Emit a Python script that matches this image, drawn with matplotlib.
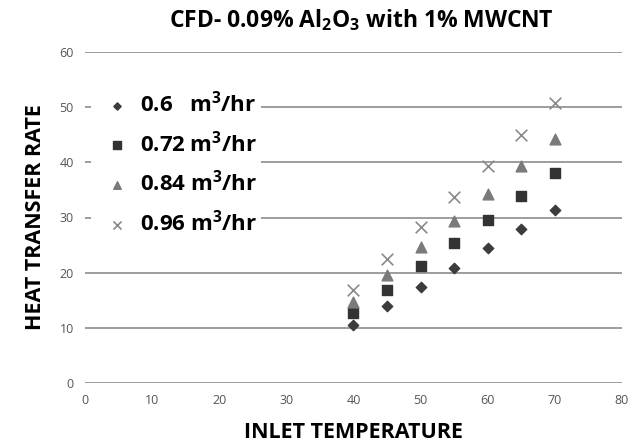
import matplotlib
matplotlib.use("Agg")
import matplotlib.pyplot as plt

# datos
temperatura = [40, 45, 50, 55, 60, 65, 70]
q_060 = [10.5, 13.9, 17.4, 20.9, 24.4, 27.9, 31.4]
q_072 = [12.7, 16.9, 21.2, 25.4, 29.6, 33.9, 38.0]
q_084 = [14.6, 19.6, 24.6, 29.3, 34.3, 39.3, 44.2]
q_096 = [16.8, 22.5, 28.2, 33.8, 39.3, 44.9, 50.8]
etiquetas = ["0.6   m$^3$/hr", "0.72 m$^3$/hr", "0.84 m$^3$/hr", "0.96 m$^3$/hr"]

plt.rcParams['font.family'] = ['Open Sans', 'DejaVu Sans']
plt.rcParams['mathtext.fontset'] = 'custom'
plt.rcParams['mathtext.rm'] = 'Open Sans:bold'
plt.rcParams['mathtext.default'] = 'rm'

fig = plt.figure(figsize=(6.34, 4.46), dpi=100)
ax = fig.add_axes([85/634, 1 - 383/446, (622-85)/634, (383-52)/446])

ax.scatter(temperatura, q_060, marker="D", s=28, color="#3c3c3c", label=etiquetas[0], zorder=3)
ax.scatter(temperatura, q_072, marker="s", s=55, color="#333333", label=etiquetas[1], zorder=3)
ax.scatter(temperatura, q_084, marker="^", s=60, color="#7a7a7a", label=etiquetas[2], zorder=3)
ax.scatter(temperatura, q_096, marker="x", s=70, color="#8a8a8a", linewidths=1.2, label=etiquetas[3], zorder=3)

ax.set_xlim(0, 80)
ax.set_ylim(0, 60)
ax.set_xticks(range(0, 81, 10))
ax.set_yticks(range(0, 61, 10))
ax.yaxis.grid(True, color="#8c8c8c", linewidth=1.2)
ax.set_axisbelow(True)
for s in ax.spines.values():
    s.set_visible(False)
ax.tick_params(length=0, labelsize=9, labelcolor="#555555", pad=8)

ax.set_xlabel("INLET TEMPERATURE", fontsize=15.5, fontweight="bold", labelpad=11)
ax.set_ylabel("HEAT TRANSFER RATE", fontsize=15.5, fontweight="bold", labelpad=10)
fig.text(0.57, 0.955, "CFD- 0.09% Al$_2$O$_3$ with 1% MWCNT", fontsize=16.5,
         fontweight="bold", ha="center", va="center")

leg = ax.legend(loc="upper left", bbox_to_anchor=(-0.01, 0.93), frameon=True,
                prop={"size": 16, "weight": "bold"}, handletextpad=0.0,
                labelspacing=0.62, borderpad=0.2, markerscale=0.7)
leg.get_frame().set_edgecolor("none")
leg.get_frame().set_facecolor("white")
leg.get_frame().set_alpha(1)

fig.savefig("out.png", dpi=100)
